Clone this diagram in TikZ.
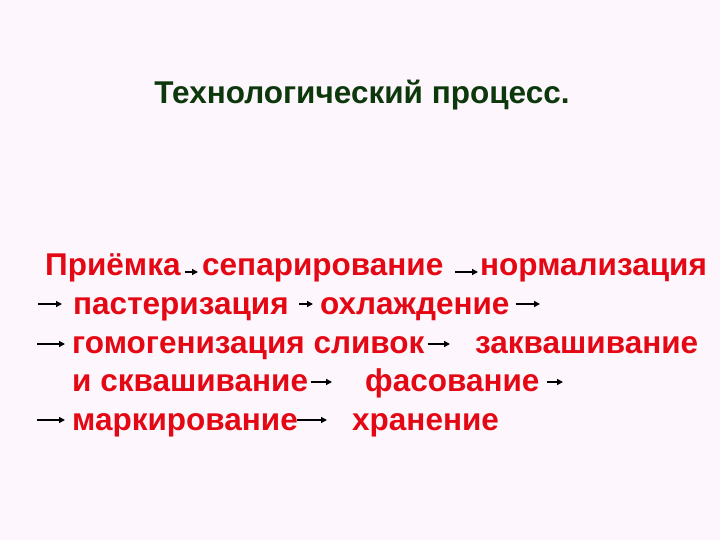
\documentclass[tikz,border=0pt]{standalone}
\usepackage{fontspec}
\setmainfont{Liberation Sans}
\usetikzlibrary{arrows.meta}
\definecolor{slidebg}{RGB}{253,246,252}
\definecolor{steptext}{RGB}{228,8,20}
\definecolor{headtext}{RGB}{12,56,12}
\begin{document}
\begin{tikzpicture}[x=1pt,y=-1pt]
\tikzstyle{stage}=[anchor=base west, inner sep=0pt, text=steptext, font=\fontsize{31.5}{36}\selectfont\bfseries]
\tikzstyle{arr}=[-{Triangle[length=6pt,width=6pt]}, line width=1.3pt, black]
\fill[slidebg] (0,0) rectangle (720,540);
\useasboundingbox (0,0) rectangle (720,540);

\node[anchor=base, inner sep=0pt, text=headtext, font=\fontsize{31.5}{36}\selectfont\bfseries]
    (title) at (362,104) {Технологический процесс.};

\node[stage] (priemka) at ( 45,275) {Приёмка};
\node[stage] (separ)   at (202,275) {сепарирование};
\node[stage] (normal)  at (480,275) {нормализация};
\node[stage] (paster)  at ( 73,314) {пастеризация};
\node[stage] (ohlazh)  at (320,314) {охлаждение};
\node[stage] (gomog)   at ( 72,353) {гомогенизация сливок};
\node[stage] (zakvash) at (475,353) {заквашивание};
\node[stage] (skvash)  at ( 72,391) {и сквашивание};
\node[stage] (fasov)   at (365,391) {фасование};
\node[stage] (markir)  at ( 72,430) {маркирование};
\node[stage] (hranen)  at (352,430) {хранение};

\coordinate (in2)  at ( 38,304);
\coordinate (out2) at (540,304);
\coordinate (in3)  at ( 37,344);
\coordinate (out4) at (563,382);
\coordinate (in5)  at ( 37,420);

% row 1
\draw[arr, shorten <=4pt, shorten >=4pt] ([yshift=3pt]priemka.base east) -- ([yshift=3pt]separ.base west);
\draw[arr, shorten <=12pt, shorten >=2pt] ([yshift=3pt]separ.base east) -- ([yshift=3pt]normal.base west);
% row 2
\draw[arr, shorten >=11pt] (in2) -- ([yshift=10pt]paster.base west);
\draw[arr, shorten <=10pt, shorten >=7pt] ([yshift=10pt]paster.base east) -- ([yshift=10pt]ohlazh.base west);
\draw[arr, shorten <=6pt] ([yshift=10pt]ohlazh.base east) -- (out2);
% row 3
\draw[arr, shorten >=7pt] (in3) -- ([yshift=9pt]gomog.base west);
\draw[arr, shorten <=3pt, shorten >=25pt] ([yshift=9pt]gomog.base east) -- ([yshift=9pt]zakvash.base west);
% row 4
\draw[arr, shorten <=3pt, shorten >=33pt] ([yshift=9pt]skvash.base east) -- ([yshift=9pt]fasov.base west);
\draw[arr, shorten <=7pt] ([yshift=9pt]fasov.base east) -- (out4);
% row 5
\draw[arr, shorten >=7pt] (in5) -- ([yshift=10pt]markir.base west);
\draw[arr, shorten <=-1pt, shorten >=25pt] ([yshift=10pt]markir.base east) -- ([yshift=10pt]hranen.base west);
\end{tikzpicture}
\end{document}
